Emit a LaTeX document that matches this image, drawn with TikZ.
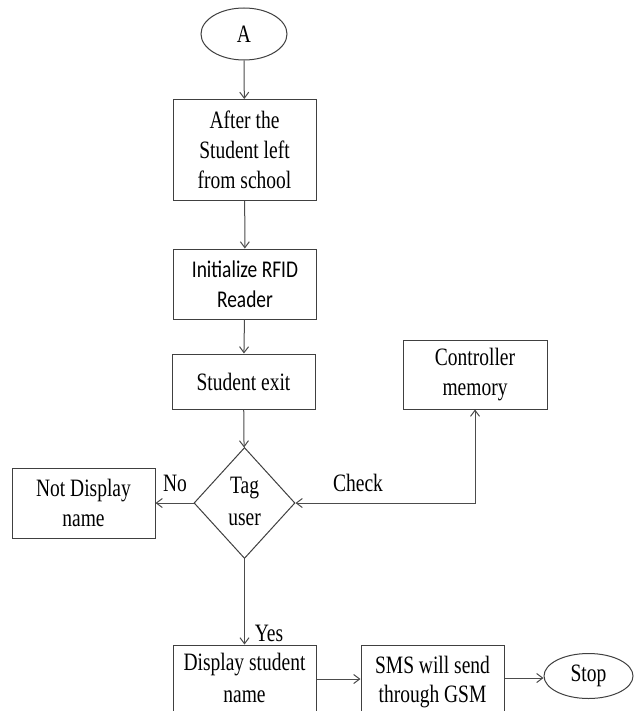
\documentclass[tikz,border=0pt]{standalone}
\usepackage{fontspec}
\setmainfont{Liberation Serif}[FakeStretch=0.78]
\newfontfamily\calibrifont{Carlito}[FakeStretch=0.81]
\usetikzlibrary{shapes.geometric,arrows.meta}
\begin{document}
\begin{tikzpicture}[x=1pt,y=-1pt,
  every node/.style={font=\fontsize{25}{30}\selectfont, text=black},
  box/.style={draw=black!75, line width=1pt, rectangle, align=center, inner sep=0pt},
  oval/.style={draw=black!75, line width=1pt, ellipse, inner sep=0pt},
  dia/.style={draw=black!75, line width=1pt, diamond, inner sep=0pt, align=center},
  conn/.style={draw=black!70, line width=1pt, -{Straight Barb[length=6pt,width=9pt]}},
  lbl/.style={inner sep=0pt}
]
\useasboundingbox (0,0) rectangle (643,711);
\fill[white] (0,0) rectangle (643,711);

\node[oval, minimum width=86pt, minimum height=52pt] (A) at (244,34) {A};
\node[box, minimum width=143pt, minimum height=101pt] (after) at (244.5,150) {After the\\Student left\\from school};
\node[box, minimum width=143pt, minimum height=70pt, font=\calibrifont\fontsize{24}{30}\selectfont] (init) at (245,284) {Initialize RFID\\Reader};
\node[box, minimum width=143pt, minimum height=55pt] (exit) at (243.5,381.5) {Student exit};
\node[dia, minimum width=101pt, minimum height=111pt, aspect=0.91] (tag) at (244.5,503) {};
\node[lbl] at (244.5,488) {Tag};
\node[lbl] at (244.5,520) {user};
\node[box, minimum width=143pt, minimum height=70pt] (notd) at (83.5,503) {Not Display\\name};
\node[box, minimum width=144pt, minimum height=69pt] (mem) at (475,374.5) {Controller\\memory};
\node[box, minimum width=143pt, minimum height=100pt, text depth=0pt] (disp) at (244.5,695) {};
\node[lbl] at (244.5,665) {Display student};
\node[lbl] at (244.5,697) {name};
\node[box, minimum width=143pt, minimum height=100pt] (sms) at (432.5,695) {};
\node[lbl] at (432.5,665) {SMS will send};
\node[lbl] at (432.5,697) {through GSM};
\node[oval, minimum width=89pt, minimum height=45pt] (stop) at (588.5,676) {Stop};

\coordinate (corner) at (475,503);

\draw[conn] (A) -- (after);
\draw[conn] (after) -- (init);
\draw[conn] (init) -- (exit);
\draw[conn] (exit) -- (tag);
\draw[conn] (tag.west) -- (notd);
\draw[conn] (tag.south) -- (disp.north);
\draw[conn] (disp.east |- 0,679) -- (sms.west |- 0,679);
\draw[conn] (sms.east |- 0,678) -- (stop.west |- 0,678);
\draw[draw=black!70, line width=1pt, {Straight Barb[length=6pt,width=9pt]}-{Straight Barb[length=6pt,width=9pt]}] (tag.east) -- (corner) -- (mem.south);

\node[lbl] (no) at (175,483) {No};
\node[lbl] (check) at (358,483) {Check};
\node[lbl] (yes) at (269,633) {Yes};
\end{tikzpicture}
\end{document}
